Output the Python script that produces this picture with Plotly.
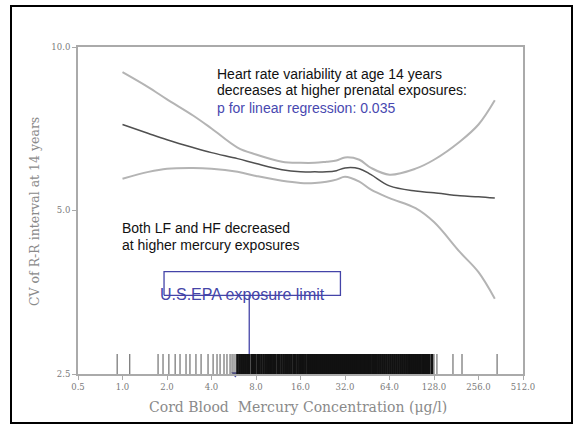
import plotly.graph_objects as go

# ---- data ----
x_grid = [1.0, 1.5, 2, 3, 4, 6, 8, 12, 16, 20, 24, 28, 32, 40, 48, 64, 96, 128, 192, 256, 330]
cv_fit = [7.20, 6.93, 6.75, 6.53, 6.39, 6.23, 6.10, 5.94, 5.89, 5.89, 5.89, 5.92, 5.99, 5.97,
          5.82, 5.55, 5.43, 5.39, 5.32, 5.30, 5.27]
cv_upper = [8.99, 8.43, 8.01, 7.48, 7.08, 6.53, 6.34, 6.15, 6.12, 6.12, 6.15, 6.18, 6.26, 6.20,
            5.99, 5.82, 5.97, 6.20, 6.70, 7.20, 7.98]
cv_lower = [5.72, 5.89, 5.97, 5.99, 5.97, 5.89, 5.79, 5.67, 5.62, 5.62, 5.65, 5.70, 5.77, 5.65,
            5.46, 5.27, 5.05, 4.76, 4.19, 3.85, 3.44]

rug_sparse = [0.92, 1.12, 1.74, 1.88, 2.06, 2.27, 2.45, 2.69, 2.86, 3.14, 3.40, 3.79, 4.10, 4.36,
              4.57, 4.86, 5.09, 5.34, 5.51, 5.68, 5.86, 128, 134, 172, 198, 342]
rug_dense = [6.0, 6.2, 6.4, 6.6, 6.8, 7.0, 7.2, 7.5, 7.7, 7.9, 8.2, 8.4, 8.7, 9.0, 9.3, 9.6, 9.9,
             10.2, 10.5, 10.8, 11.2, 11.5, 11.9, 12.3, 12.7, 13.1, 13.5, 13.9, 14.4, 14.8, 15.3,
             15.8, 16.3, 16.8, 17.3, 17.9, 18.5, 19.1, 19.7, 20.3, 21.0, 21.6, 22.3, 23.0, 23.8,
             24.5, 25.3, 26.1, 26.9, 27.8, 28.7, 29.6, 30.5, 31.5, 32.5, 33.6, 34.6, 35.7, 36.9,
             38.1, 39.3, 40.5, 41.8, 43.2, 44.5, 46.0, 47.4, 49.0, 50.5, 52.1, 53.8, 55.5, 57.3,
             59.1, 61.0, 63.0, 65.0, 67.1, 69.2, 71.4, 73.7, 76.1, 78.5, 81.0, 83.6, 86.3, 89.1,
             92.0, 95.0, 98.0, 101, 104, 108, 111, 115, 119, 124]

x_ticks = [0.5, 1, 2, 4, 8, 16, 32, 64, 128, 256, 512]
x_ticktext = ["0.5", "1.0", "2.0", "4.0", "8.0", "16.0", "32.0", "64.0", "128.0", "256.0", "512.0"]
y_ticks = [2.5, 5.0, 10.0]
y_ticktext = ["2.5", "5.0", "10.0"]

epa_limit = 5.8          # arrow head position
epa_line_x = 7.2         # vertical connector
epa_box_x = [1.91, 29.8]
epa_box_y = [3.49, 3.86]
epa_line_y = [3.49, 2.59]

BLUE = "#4444a8"

fig = go.Figure()

def rug_xy(vals):
    xs, ys = [], []
    for v in vals:
        xs += [v, v, None]
        ys += [0, 1, None]
    return xs, ys

xs, ys = rug_xy(rug_sparse)
fig.add_trace(go.Scatter(x=xs, y=ys, mode="lines", yaxis="y2",
                         line=dict(color="#555555", width=1), hoverinfo="skip"))
xs, ys = rug_xy(rug_dense)
fig.add_trace(go.Scatter(x=xs, y=ys, mode="lines", yaxis="y2",
                         line=dict(color="#111111", width=2.6), hoverinfo="skip"))

fig.add_trace(go.Scatter(x=x_grid, y=cv_upper, mode="lines", line_shape="spline",
                         line=dict(color="#b4b4b4", width=2)))
fig.add_trace(go.Scatter(x=x_grid, y=cv_lower, mode="lines", line_shape="spline",
                         line=dict(color="#b4b4b4", width=2)))
fig.add_trace(go.Scatter(x=x_grid, y=cv_fit, mode="lines", line_shape="spline",
                         line=dict(color="#505050", width=1.5)))

# EPA box, connector, arrow head
fig.add_trace(go.Scatter(x=[epa_box_x[0], epa_box_x[1], epa_box_x[1], epa_box_x[0], epa_box_x[0]],
                         y=[epa_box_y[0], epa_box_y[0], epa_box_y[1], epa_box_y[1], epa_box_y[0]],
                         mode="lines", line=dict(color=BLUE, width=1.3)))
fig.add_trace(go.Scatter(x=[epa_line_x, epa_line_x], y=epa_line_y, mode="lines",
                         line=dict(color=BLUE, width=1.3)))
fig.add_trace(go.Scatter(x=[epa_limit], y=[y_ticks[0]], mode="markers", cliponaxis=False,
                         marker=dict(symbol="triangle-down", size=7, color=BLUE)))

L, R, T, B = 78, 53, 47, 52
W, H = 576, 426
pw, ph = W - L - R, H - T - B

def px(xp):
    return (xp - L) / pw

def py(yp):
    return (H - B - yp) / ph

ann = []
def add_text(text, xp, yp, color="#111111", size=14):
    ann.append(dict(text=text, x=px(xp), y=py(yp), xref="paper", yref="paper",
                    xanchor="left", yanchor="middle", showarrow=False,
                    font=dict(family="Liberation Sans, Arial", size=size, color=color)))

add_text("Heart rate variability at age 14 years", 215, 74)
add_text("decreases at higher prenatal exposures:", 215, 90)
add_text("p for linear regression: 0.035", 215, 108, color="#4848b0")
add_text("Both LF and HF decreased", 120, 228)
add_text("at higher mercury exposures", 120, 245)
add_text("U.S.EPA exposure limit", 158, 294, color=BLUE, size=16)

# axis titles
ann.append(dict(text="Cord Blood\u00a0 Mercury Concentration (\u03bcg/l)", x=px(298), y=py(407),
                xref="paper", yref="paper", showarrow=False, xanchor="center", yanchor="middle",
                font=dict(family="DejaVu Serif", size=14, color="#8a8a8a")))
ann.append(dict(text="CV of R-R interval at 14 years", x=px(34), y=py(212), textangle=-90,
                xref="paper", yref="paper", showarrow=False, xanchor="center", yanchor="middle",
                font=dict(family="DejaVu Serif", size=12.5, color="#8a8a8a")))

# outer black frame
shapes = [dict(type="rect", xref="paper", yref="paper",
               x0=px(11), x1=px(572), y0=py(423), y1=py(6),
               line=dict(color="black", width=2), fillcolor="rgba(0,0,0,0)")]

tickfont = dict(family="DejaVu Serif", size=8.5, color="#7a7a7a")

fig.update_layout(
    width=W, height=H, margin=dict(l=L, r=R, t=T, b=B),
    paper_bgcolor="white", plot_bgcolor="white", showlegend=False,
    annotations=ann, shapes=shapes,
    xaxis=dict(type="log", range=[-0.30103, 2.70927], tickvals=x_ticks, ticktext=x_ticktext,
               showgrid=False, zeroline=False, showline=True, mirror=True,
               linecolor="#aaaaaa", linewidth=2, ticks="outside", ticklen=4,
               tickcolor="#aaaaaa", tickfont=tickfont),
    yaxis=dict(type="log", range=[0.39794, 1.0], tickvals=y_ticks, ticktext=y_ticktext,
               showgrid=False, zeroline=False, showline=True, mirror=True,
               linecolor="#aaaaaa", linewidth=2, ticks="outside", ticklen=4,
               tickcolor="#aaaaaa", tickfont=tickfont),
    yaxis2=dict(overlaying="y", range=[0, 16.35], visible=False, showgrid=False),
)

fig.write_html("out.html", config={"displayModeBar": False},
               post_script="document.body.style.margin='0';document.body.style.overflow='hidden';")
